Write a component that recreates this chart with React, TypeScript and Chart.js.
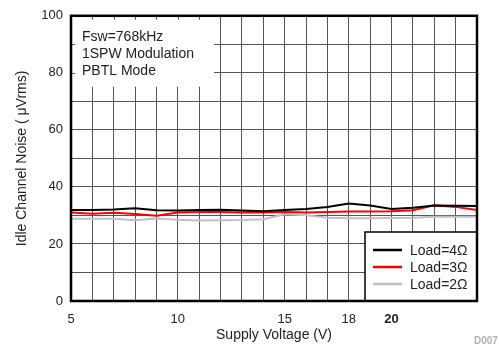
import React, { useEffect, useRef } from "react";
import { Chart, registerables } from "chart.js";

Chart.register(...registerables);

const voltages = [5, 6, 7, 8, 9, 10, 11, 12, 13, 14, 15, 16, 17, 18, 19, 20, 21, 22, 23, 24];
const load4 = [31.9, 31.9, 32.1, 32.5, 31.8, 31.7, 31.9, 32.0, 31.7, 31.5, 31.9, 32.3, 33.0, 34.2, 33.5, 32.3, 32.7, 33.5, 33.4, 33.3];
const load3 = [31.0, 30.6, 30.9, 30.5, 29.9, 31.0, 31.2, 31.2, 31.0, 31.0, 31.2, 31.0, 31.2, 31.4, 31.4, 31.5, 31.8, 33.6, 33.0, 31.9];
const load2 = [28.8, 28.8, 28.8, 28.3, 28.9, 28.5, 28.2, 28.3, 28.4, 28.7, 30.4, 30.1, 29.2, 29.0, 29.0, 29.1, 29.2, 29.5, 29.5, 29.5];
const seriesLabels = ["Load=4Ω", "Load=3Ω", "Load=2Ω"];
const seriesColors = ["#000000", "#ff0000", "#c0c0c0"];
const xTickLabels = [5, 10, 15, 18, 20];
const yTickLabels = [0, 20, 40, 60, 80, 100];
const noteLines = ["Fsw=768kHz", "1SPW Modulation", "PBTL Mode"];

const FONT = "'Liberation Sans', Arial, Helvetica, sans-serif";

const overlayPlugin = {
  id: "overlay",
  beforeDatasetsDraw(chart: any) {
    const { ctx, chartArea } = chart;
    const { left, top } = chartArea;
    ctx.save();
    ctx.fillStyle = "#fff";
    ctx.fillRect(left + 1, top + 1, 142, 70);
    ctx.strokeStyle = "#555";
    ctx.lineWidth = 1;
    const xs = chart.scales.x;
    const ys = chart.scales.y;
    for (let v = 6; v <= 11; v++) {
      const px = Math.round(xs.getPixelForValue(v)) + 0.5;
      ctx.beginPath();
      ctx.moveTo(px, top);
      ctx.lineTo(px, top + 4);
      ctx.stroke();
    }
    for (const v of [80, 90]) {
      const py = Math.round(ys.getPixelForValue(v)) + 0.5;
      ctx.beginPath();
      ctx.moveTo(left, py);
      ctx.lineTo(left + 4, py);
      ctx.stroke();
    }
    ctx.fillStyle = "#222";
    ctx.font = `14px ${FONT}`;
    ctx.textBaseline = "middle";
    ctx.textAlign = "left";
    noteLines.forEach((t, i) => ctx.fillText(t, left + 11, top + 21 + i * 17));
    ctx.restore();
  },
  afterDatasetsDraw(chart: any) {
    const { ctx, chartArea } = chart;
    const { left, top, right, bottom } = chartArea;
    ctx.save();
    const lx = right - 112;
    const ly = bottom - 69;
    ctx.fillStyle = "#fff";
    ctx.fillRect(lx, ly, 112, 69);
    ctx.strokeStyle = "#000";
    ctx.lineWidth = 1.5;
    ctx.strokeRect(lx, ly, 112, 69);
    ctx.font = `14px ${FONT}`;
    ctx.textBaseline = "middle";
    ctx.textAlign = "left";
    chart.data.datasets.forEach((ds: any, i: number) => {
      const cy = ly + 18 + i * 17;
      ctx.strokeStyle = ds.borderColor;
      ctx.lineWidth = 2.5;
      ctx.beginPath();
      ctx.moveTo(lx + 8, cy);
      ctx.lineTo(lx + 37, cy);
      ctx.stroke();
      ctx.fillStyle = "#222";
      ctx.fillText(ds.label, lx + 45, cy + 1);
    });
    ctx.strokeStyle = "#000";
    ctx.lineWidth = 2.5;
    ctx.strokeRect(left, top, right - left, bottom - top);
    ctx.restore();
  },
  afterDraw(chart: any) {
    const { ctx } = chart;
    ctx.save();
    ctx.fillStyle = "#b0b0b0";
    ctx.font = `bold 10px ${FONT}`;
    ctx.textBaseline = "middle";
    ctx.textAlign = "left";
    ctx.fillText("D007", 474, 341);
    ctx.restore();
  },
};

export default function App() {
  const ref = useRef<HTMLCanvasElement | null>(null);
  useEffect(() => {
    if (!ref.current) return;
    const mk = (vals: number[]) => voltages.map((x, i) => ({ x, y: vals[i] }));
    const chart = new Chart(ref.current, {
      type: "line",
      data: {
        datasets: [load4, load3, load2].map((vals, i) => ({
          label: seriesLabels[i],
          data: mk(vals),
          borderColor: seriesColors[i],
          backgroundColor: seriesColors[i],
          borderWidth: 2,
          pointRadius: 0,
          tension: 0,
        })),
      },
      options: {
        responsive: false,
        animation: false,
        devicePixelRatio: 1,
        layout: { padding: { top: 13, right: 22, left: 0, bottom: 0 } },
        plugins: { legend: { display: false }, tooltip: { enabled: false } },
        scales: {
          x: {
            type: "linear",
            min: 5,
            max: 24,
            afterFit(scale: any) {
              scale.height = 49;
            },
            ticks: {
              stepSize: 1,
              autoSkip: false,
              maxRotation: 0,
              padding: 11,
              color: "#222",
              font: (c: any) => ({
                family: FONT,
                size: 13,
                weight: c.tick && c.tick.value === 20 ? "bold" : "normal",
              }),
              callback: (v: any) => (xTickLabels.includes(Number(v)) ? String(v) : ""),
            },
            grid: { color: "#555", lineWidth: 1, drawTicks: false },
            border: { display: false },
            title: {
              display: true,
              text: "Supply Voltage (V)",
              color: "#222",
              font: { family: FONT, size: 14 },
              padding: { top: 0, bottom: 6 },
            },
          },
          y: {
            min: 0,
            max: 100,
            afterFit(scale: any) {
              scale.width = 71;
            },
            ticks: {
              stepSize: 10,
              autoSkip: false,
              padding: 8,
              color: "#222",
              font: { family: FONT, size: 13 },
              callback: (v: any) => (yTickLabels.includes(Number(v)) ? String(v) : ""),
            },
            grid: { color: "#555", lineWidth: 1, drawTicks: false },
            border: { display: false },
            title: {
              display: true,
              text: "Idle Channel Noise ( μVrms)",
              color: "#222",
              font: { family: FONT, size: 14 },
              padding: { top: 14, bottom: 0 },
            },
          },
        },
      },
      plugins: [overlayPlugin],
    });
    return () => chart.destroy();
  }, []);
  return (
    <div style={{ position: "absolute", left: 0, top: 0, width: 499, height: 350, background: "#fff" }}>
      <canvas ref={ref} width={499} height={350} style={{ width: 499, height: 350 }} />
    </div>
  );
}
